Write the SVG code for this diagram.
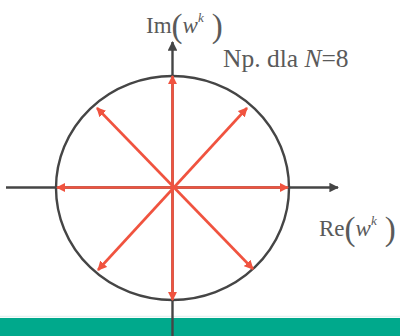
<svg xmlns="http://www.w3.org/2000/svg" width="400" height="336" viewBox="0 0 400 336">
<style>
.ax{stroke:#454545;stroke-width:2.4;fill:none}
.vec{stroke:#F0533F;stroke-width:2.6;fill:none}
.t{font-family:"Liberation Serif","Times New Roman",serif;fill:#5a5a5a}
.i{font-style:italic}
</style>
<defs>
<marker id="ah" viewBox="0 0 10 10" refX="9" refY="5" markerWidth="4" markerHeight="4" orient="auto" markerUnits="strokeWidth">
<path d="M0,0 L10,5 L0,10 Z" fill="#454545"/>
</marker>
<marker id="rh" viewBox="0 0 10 10" refX="9" refY="5" markerWidth="3.6" markerHeight="3.6" orient="auto-start-reverse" markerUnits="strokeWidth">
<path d="M0,0 L10,5 L0,10 Z" fill="#F0533F"/>
</marker>
</defs>
<rect x="0" y="0" width="400" height="336" fill="#ffffff"/>
<rect id="band" x="0" y="318" width="400" height="18" fill="#00A98C"/>
<line x1="0" y1="316.5" x2="400" y2="316.5" stroke="#e4f2f0" stroke-width="1.5"/>
<g id="circle"><ellipse cx="172.5" cy="188" rx="116.5" ry="112" class="ax"/></g>
<g id="axes">
<line x1="6" y1="187.5" x2="338" y2="187.5" class="ax" marker-end="url(#ah)"/>
<line x1="172.5" y1="336" x2="172.5" y2="42" class="ax" marker-end="url(#ah)"/>
</g>
<g id="vectors">
<line x1="172.5" y1="300" x2="172.5" y2="76" class="vec" marker-start="url(#rh)" marker-end="url(#rh)"/>
<line x1="57" y1="187.5" x2="288" y2="187.5" class="vec" marker-start="url(#rh)" marker-end="url(#rh)"/>
<line x1="97" y1="108" x2="253" y2="269" class="vec" marker-start="url(#rh)" marker-end="url(#rh)"/>
<line x1="98" y1="270" x2="247" y2="108" class="vec" marker-start="url(#rh)" marker-end="url(#rh)"/>
</g>
<g id="label-im">
<text x="146" y="33" class="t" font-size="23">Im<tspan font-size="33" dy="4">(</tspan><tspan class="i" dy="-4">w</tspan><tspan class="i" font-size="13" dy="-11">k</tspan><tspan font-size="33" dx="8" dy="15">)</tspan></text>
</g>
<g id="label-re">
<text x="319" y="236" class="t" font-size="23">Re<tspan font-size="33" dy="4">(</tspan><tspan class="i" dy="-4">w</tspan><tspan class="i" font-size="13" dy="-11">k</tspan><tspan font-size="33" dx="8" dy="15">)</tspan></text>
</g>
<g id="label-np">
<text x="223" y="67" class="t" font-size="25.5">Np. dla <tspan class="i">N</tspan>=8</text>
</g>
</svg>
